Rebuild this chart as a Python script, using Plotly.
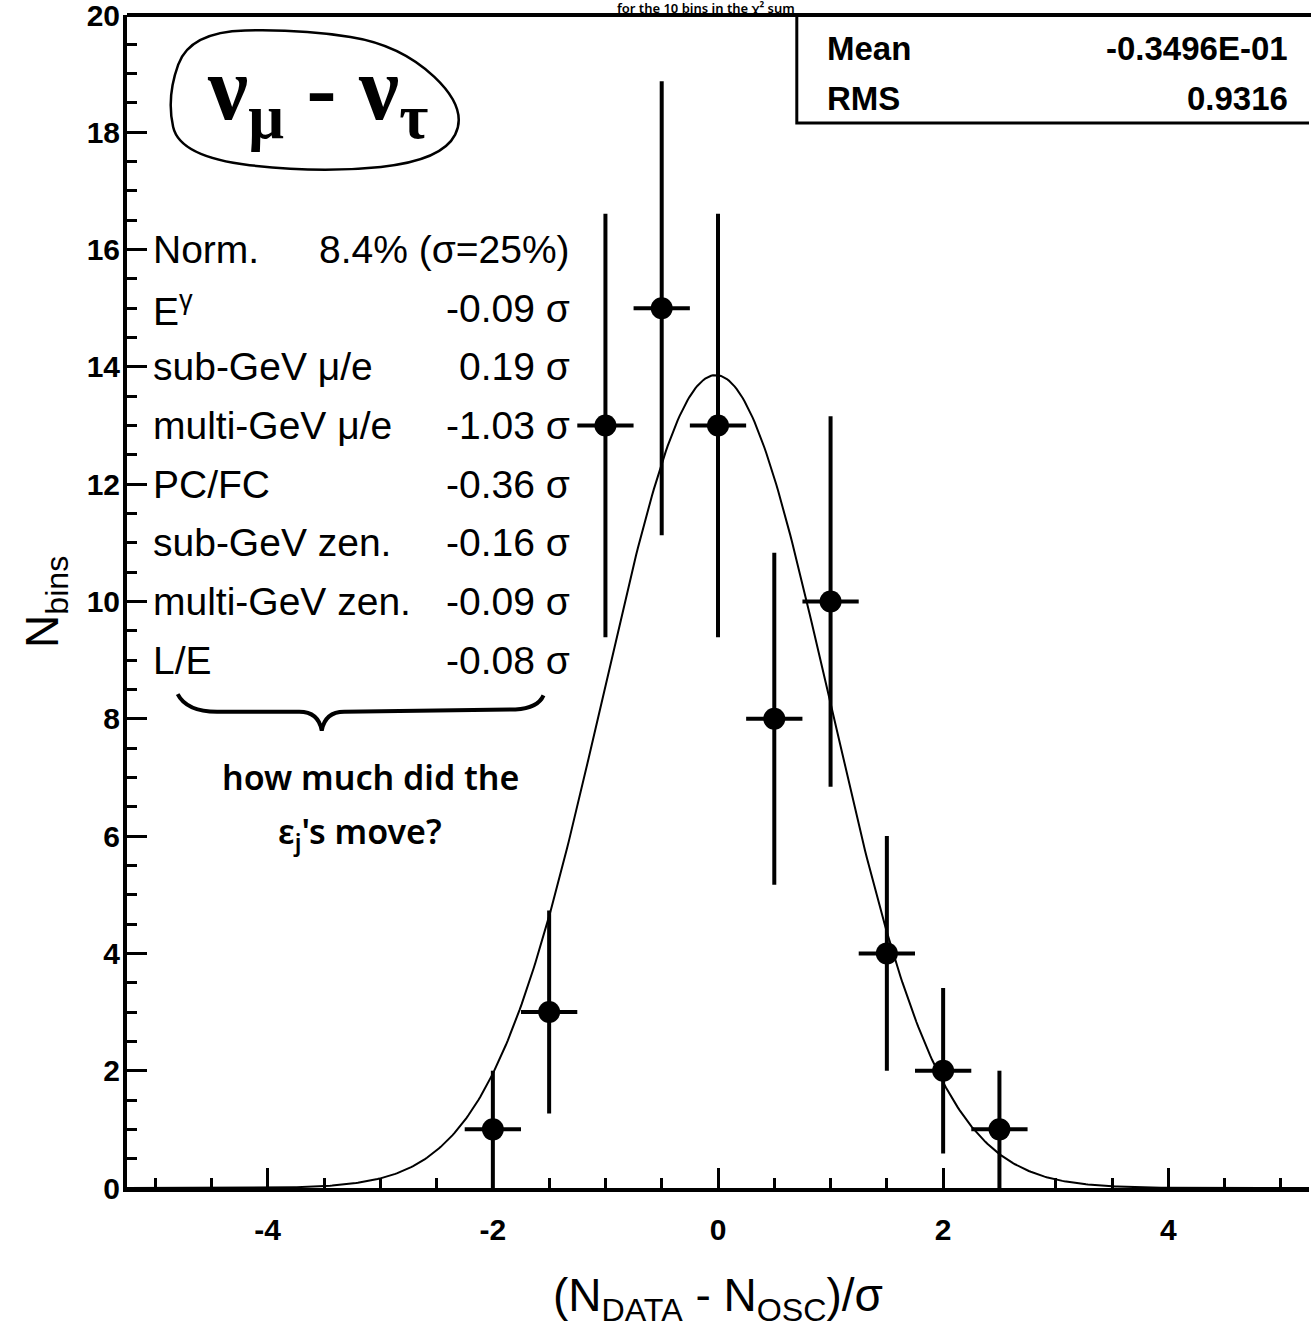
import numpy as np
import plotly.graph_objects as go

# Histogram of pulls: bin centres, entries per bin and their errors
bin_centers = [-2.0, -1.5, -1.0, -0.5, 0.0, 0.5, 1.0, 1.5, 2.0, 2.5]
bin_counts = [1, 3, 13, 15, 13, 8, 10, 4, 2, 1]
count_errors = [1.0, 1.73, 3.61, 3.87, 3.61, 2.83, 3.16, 2.0, 1.41, 1.0]
bin_half_width = 0.25

# Gaussian fit parameters
fit_const = 13.86
fit_mean = -0.02
fit_sigma = 1.0

# Histogram statistics box
stat_names = ["Mean", "RMS"]
stat_values = ["-0.3496E-01", "0.9316"]

# Fitted systematic error terms
syst_names = ["Norm.", "E<sup>γ</sup>", "sub-GeV μ/e", "multi-GeV μ/e", "PC/FC",
              "sub-GeV zen.", "multi-GeV zen.", "L/E"]
syst_values = ["8.4% (σ=25%)", "-0.09 σ", "0.19 σ", "-1.03 σ", "-0.36 σ",
               "-0.16 σ", "-0.09 σ", "-0.08 σ"]
syst_rows = [16, 15, 14, 13, 12, 11, 10, 9]

# Axis ticks
x_tick_vals = [-4, -2, 0, 2, 4]
x_tick_text = ["-4", "-2", "0", "2", "4"]
y_tick_vals = [0, 2, 4, 6, 8, 10, 12, 14, 16, 18, 20]

x_range = [-5.25, 5.25]
y_range = [0, 20]

fig = go.Figure()

# fit curve
xf = np.linspace(x_range[0], x_range[1], 600)
yf = fit_const * np.exp(-0.5 * ((xf - fit_mean) / fit_sigma) ** 2)
fig.add_trace(go.Scatter(x=xf, y=yf, mode="lines",
                         line=dict(color="black", width=2), hoverinfo="skip",
                         showlegend=False))

# data points with errors
fig.add_trace(go.Scatter(
    x=bin_centers, y=bin_counts, mode="markers",
    marker=dict(color="black", size=22),
    error_y=dict(type="data", array=count_errors, color="black", thickness=4, width=0),
    error_x=dict(type="constant", value=bin_half_width, color="black", thickness=4, width=0),
    showlegend=False))

AX_FONT = dict(family="Liberation Sans, Arial, sans-serif", size=30, color="black", weight="bold")

fig.update_xaxes(
    range=x_range, showgrid=False, zeroline=False, automargin=False,
    showline=True, linewidth=4, linecolor="black",
    ticks="inside", ticklen=20, tickwidth=3, tickcolor="black",
    tickvals=x_tick_vals, ticktext=x_tick_text,
    tickfont=AX_FONT, ticklabelstandoff=12, ticklabeloverflow="allow",
    minor=dict(ticks="inside", ticklen=10, tickwidth=3, tickcolor="black",
               tickvals=list(np.arange(-5.0, 5.01, 0.5))),
)
fig.update_yaxes(
    range=y_range, showgrid=False, zeroline=False, automargin=False,
    showline=True, linewidth=4, linecolor="black",
    ticks="inside", ticklen=20, tickwidth=3, tickcolor="black",
    tickvals=y_tick_vals, ticktext=[str(v) for v in y_tick_vals],
    tickfont=AX_FONT, ticklabelstandoff=-3, ticklabeloverflow="allow",
    minor=dict(ticks="inside", ticklen=10, tickwidth=3, tickcolor="black",
               tickvals=list(np.arange(0, 20.01, 0.5))),
)

shapes = []
# frame top line
shapes.append(dict(type="line", xref="paper", yref="paper", x0=0, x1=1.01, y0=1, y1=1,
                   line=dict(color="black", width=4)))
# statistics box
shapes.append(dict(type="rect", xref="x", yref="y", x0=0.70, x1=5.40, y0=18.16, y1=20,
                   line=dict(color="black", width=3), fillcolor="white", layer="below"))

# hand-drawn loop around the channel label
loop_pts = [(-4.69, 19.71), (-3.71, 19.76), (-2.82, 19.49), (-2.22, 18.40),
            (-2.45, 17.52), (-3.54, 17.30), (-4.78, 17.58), (-4.90, 18.60)]
n = len(loop_pts)
mid = lambda a, b: ((a[0] + b[0]) / 2, (a[1] + b[1]) / 2)
start = mid(loop_pts[-1], loop_pts[0])
path = f"M {start[0]},{start[1]}"
for i in range(n):
    p = loop_pts[i]
    m = mid(p, loop_pts[(i + 1) % n])
    path += f" Q {p[0]},{p[1]} {m[0]},{m[1]}"
path += " Z"
shapes.append(dict(type="path", xref="x", yref="y", path=path,
                   line=dict(color="black", width=2.5)))

# curly brace under the systematics list
brace = ("M -4.80,8.42 Q -4.72,8.12 -4.45,8.12 L -3.72,8.12 "
         "Q -3.55,8.12 -3.52,7.80 Q -3.49,8.12 -3.32,8.12 "
         "L -1.80,8.16 Q -1.60,8.18 -1.55,8.40")
shapes.append(dict(type="path", xref="x", yref="y", path=brace,
                   line=dict(color="black", width=4)))

annotations = []
STAT_FONT = dict(family="Liberation Sans, Arial, sans-serif", size=33, color="black", weight="bold")
for name, val, yy in zip(stat_names, stat_values, [19.43, 18.58]):
    annotations.append(dict(x=0.95, y=yy, xref="x", yref="y", text=name, showarrow=False,
                            xanchor="left", yanchor="middle", font=STAT_FONT))
    annotations.append(dict(x=5.08, y=yy, xref="x", yref="y", text=val, showarrow=False,
                            xanchor="right", yanchor="middle", font=STAT_FONT))

SYST_FONT = dict(family="Liberation Sans, Arial, sans-serif", size=39, color="black")
for name, val, yy in zip(syst_names, syst_values, syst_rows):
    annotations.append(dict(x=-5.04, y=yy, xref="x", yref="y", text=name, showarrow=False,
                            xanchor="left", yanchor="middle", font=SYST_FONT))
    annotations.append(dict(x=-1.30, y=yy, xref="x", yref="y", text=val, showarrow=False,
                            xanchor="right", yanchor="middle", font=SYST_FONT))

# channel label
annotations.append(dict(x=-3.56, y=18.62, xref="x", yref="y",
                        text="ν<sub>μ</sub> - ν<sub>τ</sub>", showarrow=False,
                        xanchor="center", yanchor="middle",
                        font=dict(family="Liberation Serif, serif", size=90,
                                  color="black", weight="bold")))

HAND_FONT = dict(family="Noto Sans, sans-serif", size=34, color="black", weight=600)
annotations.append(dict(x=-3.09, y=7.0, xref="x", yref="y", text="how much did the",
                        showarrow=False, xanchor="center", yanchor="middle", font=HAND_FONT))
annotations.append(dict(x=-3.18, y=6.05, xref="x", yref="y",
                        text="ε<sub>j</sub>'s move?",
                        showarrow=False, xanchor="center", yanchor="middle", font=HAND_FONT))
annotations.append(dict(x=0.49, y=1.0062, xref="paper", yref="paper",
                        text="for the 10 bins in the χ² sum",
                        showarrow=False, xanchor="center", yanchor="middle",
                        font=dict(family="Noto Sans, sans-serif", size=13, color="black",
                                  weight=600)))

# axis titles
TITLE_FONT = dict(family="Liberation Sans, Arial, sans-serif", size=46, color="black")
annotations.append(dict(x=-0.069, y=0.50, xref="paper", yref="paper",
                        text="N<sub>bins</sub>", textangle=-90, showarrow=False,
                        xanchor="center", yanchor="middle", font=TITLE_FONT))
annotations.append(dict(x=0.5, y=-0.094, xref="paper", yref="paper",
                        text="(N<sub>DATA</sub> - N<sub>OSC</sub>)/σ", showarrow=False,
                        xanchor="center", yanchor="middle", font=TITLE_FONT))

fig.update_layout(
    width=1311, height=1333,
    margin=dict(l=127, r=2, t=15, b=145, autoexpand=False),
    paper_bgcolor="white", plot_bgcolor="white",
    shapes=shapes, annotations=annotations,
    showlegend=False,
)

fig.write_html("out.html")
